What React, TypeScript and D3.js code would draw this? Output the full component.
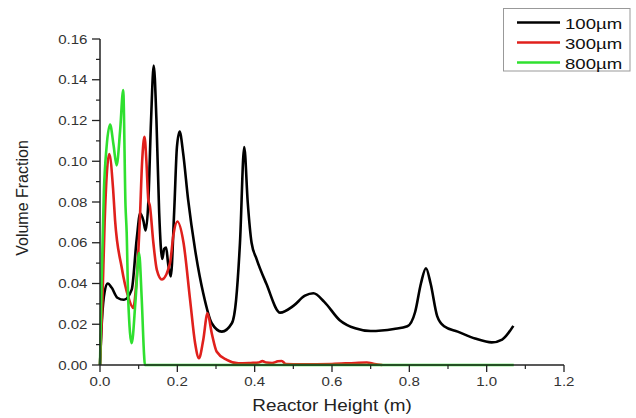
import React from "react";
import * as d3 from "d3";

const blackX = [0, 0.005, 0.012, 0.02, 0.03, 0.045, 0.062, 0.082, 0.095, 0.104, 0.112, 0.118, 0.125, 0.132, 0.139, 0.146, 0.153, 0.161, 0.166, 0.171, 0.176, 0.183, 0.192, 0.199, 0.206, 0.215, 0.228, 0.246, 0.267, 0.289, 0.315, 0.341, 0.352, 0.362, 0.373, 0.382, 0.392, 0.405, 0.43, 0.466, 0.5, 0.53, 0.552, 0.58, 0.62, 0.66, 0.7, 0.76, 0.795, 0.815, 0.83, 0.843, 0.855, 0.872, 0.89, 0.925, 0.97, 1.013, 1.04, 1.069];
const blackY = [0, 0.022, 0.036, 0.040, 0.038, 0.033, 0.032, 0.037, 0.062, 0.0745, 0.071, 0.066, 0.08, 0.12, 0.147, 0.12, 0.075, 0.052, 0.057, 0.0576, 0.05, 0.0434, 0.076, 0.107, 0.1146, 0.104, 0.081, 0.0565, 0.0352, 0.0205, 0.0164, 0.0205, 0.032, 0.06, 0.107, 0.08, 0.06, 0.052, 0.04, 0.0257, 0.029, 0.034, 0.0352, 0.031, 0.022, 0.018, 0.0167, 0.0177, 0.019, 0.026, 0.04, 0.0475, 0.04, 0.024, 0.019, 0.0164, 0.013, 0.0111, 0.0125, 0.0192];

const redX = [0, 0.006, 0.012, 0.018, 0.024, 0.034, 0.039, 0.056, 0.073, 0.086, 0.093, 0.099, 0.103, 0.109, 0.115, 0.12, 0.125, 0.129, 0.138, 0.147, 0.16, 0.181, 0.19, 0.2, 0.216, 0.233, 0.246, 0.256, 0.267, 0.278, 0.289, 0.302, 0.328, 0.358, 0.39, 0.41, 0.42, 0.43, 0.445, 0.46, 0.47, 0.48, 0.52, 0.6, 0.66, 0.69, 0.71, 0.73];
const redY = [0, 0.03, 0.07, 0.095, 0.1035, 0.086, 0.071, 0.048, 0.0335, 0.028, 0.038, 0.055, 0.071, 0.1, 0.112, 0.1, 0.081, 0.078, 0.06, 0.0467, 0.042, 0.05, 0.064, 0.0704, 0.06, 0.032, 0.0107, 0.0033, 0.0123, 0.0254, 0.0156, 0.0065, 0.0025, 0.0008, 0.001, 0.0012, 0.0019, 0.0012, 0.001, 0.0018, 0.002, 0.0005, 0.0003, 0.0005, 0.001, 0.0012, 0.0005, 0];

const greenX = [0, 0.004, 0.01, 0.017, 0.026, 0.035, 0.043, 0.052, 0.06, 0.066, 0.069, 0.073, 0.082, 0.092, 0.101, 0.108, 0.114, 0.116, 1.07];
const greenY = [0, 0.04, 0.085, 0.107, 0.118, 0.108, 0.098, 0.115, 0.135, 0.078, 0.065, 0.032, 0.0107, 0.032, 0.055, 0.032, 0.005, 0, 0];

const seriesNames = ["100µm", "300µm", "800µm"];
const seriesColors = ["#000000", "#e0201c", "#2fe02f"];
const xTicks = [0, 0.2, 0.4, 0.6, 0.8, 1.0, 1.2];
const yTicks = [0, 0.02, 0.04, 0.06, 0.08, 0.1, 0.12, 0.14, 0.16];

const W = 636, H = 418;
const margin = { left: 100, right: 72, top: 39, bottom: 53 };

export default function App() {
  const x = d3.scaleLinear().domain([0, 1.2]).range([margin.left, W - margin.right]);
  const y = d3.scaleLinear().domain([0, 0.16]).range([H - margin.bottom, margin.top]);
  const line = d3.line<[number, number]>().x(d => x(d[0])).y(d => y(d[1])).curve(d3.curveMonotoneX);
  const series = [
    blackX.map((v, i) => [v, blackY[i]] as [number, number]),
    redX.map((v, i) => [v, redY[i]] as [number, number]),
    greenX.map((v, i) => [v, greenY[i]] as [number, number]),
  ];
  const x0 = x(0), y0 = y(0);
  const xMinor = d3.range(0.1, 1.2, 0.2);
  const yMinor = d3.range(0.01, 0.16, 0.02);
  const font = "Liberation Sans, Arial, sans-serif";
  const axisColor = "#222";
  const tickStretch = 1.16;
  return (
    <svg width={W} height={H} style={{ position: "absolute", left: 0, top: 0, background: "#fff" }} fontFamily={font}>
      <rect x={0} y={0} width={W} height={H} fill="#fff" />
      {series.map((s, i) => (
        <path key={i} d={line(s) || ""} fill="none" stroke={seriesColors[i]} strokeWidth={2.6} strokeLinejoin="round" />
      ))}
      <line x1={x0} x2={x(1.2)} y1={y0} y2={y0} stroke={axisColor} strokeWidth={1.5} />
      <line x1={x0} x2={x0} y1={y0} y2={y(0.16)} stroke={axisColor} strokeWidth={1.5} />
      {xTicks.map(t => (
        <g key={"xt" + t}>
          <line x1={x(t)} x2={x(t)} y1={y0} y2={y0 + 7} stroke={axisColor} strokeWidth={1.3} />
          <text transform={`translate(${x(t)},${y0 + 21}) scale(${tickStretch},1)`} textAnchor="middle" fontSize={13} fill="#333">{t.toFixed(1)}</text>
        </g>
      ))}
      {xMinor.map(t => (
        <line key={"xm" + t} x1={x(t)} x2={x(t)} y1={y0} y2={y0 + 4} stroke={axisColor} strokeWidth={1.2} />
      ))}
      {yTicks.map(t => (
        <g key={"yt" + t}>
          <line x1={x0 - 8} x2={x0} y1={y(t)} y2={y(t)} stroke={axisColor} strokeWidth={1.3} />
          <text transform={`translate(${x0 - 12.5},${y(t) + 4.5}) scale(${tickStretch},1)`} textAnchor="end" fontSize={13} fill="#333">{t.toFixed(2)}</text>
        </g>
      ))}
      {yMinor.map(t => (
        <line key={"ym" + t} x1={x0 - 4} x2={x0} y1={y(t)} y2={y(t)} stroke={axisColor} strokeWidth={1.2} />
      ))}
      <text transform={`translate(${x(0.6)},411) scale(1.18,1)`} textAnchor="middle" fontSize={16} fill="#222">Reactor Height (m)</text>
      <text transform={`translate(28,198) rotate(-90)`} textAnchor="middle" fontSize={16} fill="#222">Volume Fraction</text>
      <rect x={503.5} y={8.5} width={126.5} height={62.5} fill="#fff" stroke="#999" strokeWidth={1} />
      {seriesNames.map((n, i) => (
        <g key={n}>
          <line x1={517} x2={560} y1={22.5 + i * 20} y2={22.5 + i * 20} stroke={seriesColors[i]} strokeWidth={2.4} />
          <text transform={`translate(565,${22.5 + i * 20 + 6}) scale(1.24,1)`} fontSize={15} fill="#111">{n}</text>
        </g>
      ))}
    </svg>
  );
}
